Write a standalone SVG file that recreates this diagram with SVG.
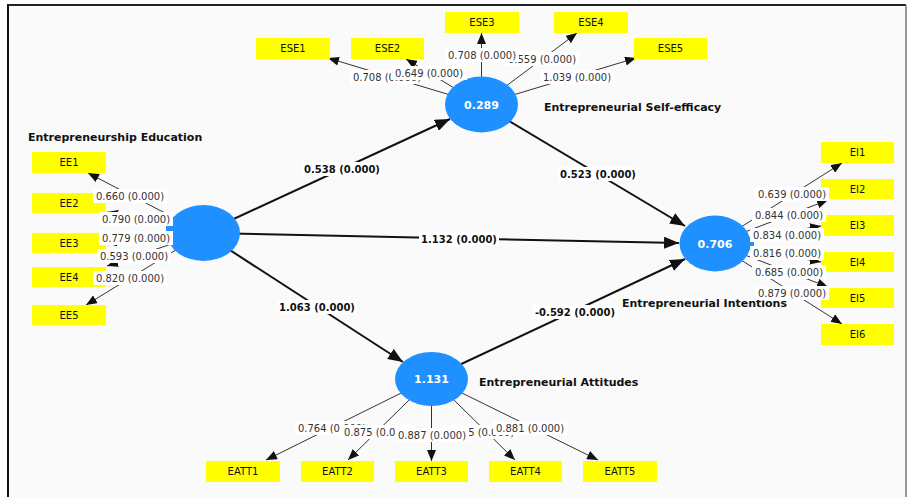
<svg xmlns="http://www.w3.org/2000/svg" width="907" height="497" viewBox="0 0 907 497">
<style>
.lv{fill:#1e90ff}
.ind{fill:#ffff00}
.ind-t{font-family:"DejaVu Sans",sans-serif;font-size:10px;fill:#111;text-anchor:middle}
.val{font-family:"DejaVu Sans",sans-serif;font-size:11px;font-weight:bold;fill:#fff;text-anchor:middle}
.name{font-family:"DejaVu Sans",sans-serif;font-size:11px;font-weight:bold;fill:#111}
.ld{stroke:#333;stroke-width:1;fill:none;marker-end:url(#ah)}
.st{stroke:#111;stroke-width:2;fill:none;marker-end:url(#ahb)}
.lb{fill:#fff}
.lt{font-family:"DejaVu Sans",sans-serif;font-size:10px;fill:#333;text-anchor:middle}
.sl{font-family:"DejaVu Sans",sans-serif;font-size:10px;font-weight:bold;fill:#111;text-anchor:middle}
</style>
<defs>
<marker id="ah" markerUnits="userSpaceOnUse" markerWidth="11" markerHeight="9" refX="11" refY="4.5" orient="auto"><path d="M0,0 L11,4.5 L0,9 z" fill="#111"/></marker>
<marker id="ahb" markerUnits="userSpaceOnUse" markerWidth="15" markerHeight="12" refX="15" refY="6" orient="auto"><path d="M0,0 L15,6 L0,12 z" fill="#111"/></marker>
</defs>
<rect width="907" height="497" fill="#fff"/>
<rect x="8" y="5" width="898" height="492" fill="#fafafa"/>
<line x1="7" y1="5" x2="906" y2="5" stroke="#222" stroke-width="2"/>
<line x1="8" y1="5" x2="8" y2="497" stroke="#111" stroke-width="2"/>
<line x1="906" y1="5" x2="906" y2="497" stroke="#777" stroke-width="1.5"/>

<g id="connectors">
<line class="ld" x1="481.5" y1="104.5" x2="328" y2="58"/>
<line class="ld" x1="481.5" y1="104.5" x2="406" y2="59"/>
<line class="ld" x1="481.5" y1="104.5" x2="481.5" y2="33"/>
<line class="ld" x1="481.5" y1="104.5" x2="577" y2="33"/>
<line class="ld" x1="481.5" y1="104.5" x2="636" y2="58"/>
<line class="ld" x1="203.5" y1="233" x2="88" y2="173"/>
<line class="ld" x1="203.5" y1="233" x2="107" y2="212"/>
<line class="ld" x1="203.5" y1="233" x2="106" y2="243"/>
<line class="ld" x1="203.5" y1="233" x2="107" y2="266"/>
<line class="ld" x1="203.5" y1="233" x2="86" y2="305"/>
<line class="ld" x1="715" y1="243.5" x2="842" y2="163"/>
<line class="ld" x1="715" y1="243.5" x2="828" y2="200"/>
<line class="ld" x1="715" y1="243.5" x2="821" y2="226"/>
<line class="ld" x1="715" y1="243.5" x2="821" y2="262"/>
<line class="ld" x1="715" y1="243.5" x2="828" y2="287"/>
<line class="ld" x1="715" y1="243.5" x2="842" y2="324"/>
<line class="ld" x1="431.5" y1="378" x2="266" y2="460"/>
<line class="ld" x1="431.5" y1="378" x2="348" y2="460"/>
<line class="ld" x1="431.5" y1="378" x2="431.5" y2="461"/>
<line class="ld" x1="431.5" y1="378" x2="515" y2="460"/>
<line class="ld" x1="431.5" y1="378" x2="598" y2="460"/>
<line class="st" x1="203.5" y1="233" x2="450" y2="119"/>
<line class="st" x1="203.5" y1="233" x2="679" y2="243"/>
<line class="st" x1="203.5" y1="233" x2="403" y2="362"/>
<line class="st" x1="481.5" y1="104.5" x2="685" y2="226"/>
<line class="st" x1="431.5" y1="378" x2="685" y2="259"/>
</g>

<g id="node-EE">
<ellipse class="lv" cx="203.5" cy="233" rx="36.5" ry="28"/>
<rect class="lv" x="166" y="225" width="9" height="7"/>
<text class="name" x="28" y="141">Entrepreneurship Education</text>
</g>
<g id="node-ESE">
<ellipse class="lv" cx="481.5" cy="104.5" rx="36.5" ry="28"/>
<text class="val" x="481.5" y="108.5">0.289</text>
<text class="name" x="544" y="111">Entrepreneurial Self-efficacy</text>
</g>
<g id="node-EI">
<ellipse class="lv" cx="715" cy="243.5" rx="35.5" ry="28"/>
<rect class="lv" x="748" y="240" width="6" height="6"/>
<text class="val" x="715" y="247.5">0.706</text>
<text class="name" x="787" y="307" text-anchor="end">Entrepreneurial Intentions</text>
</g>
<g id="node-EATT">
<ellipse class="lv" cx="431.5" cy="379" rx="36.5" ry="27"/>
<text class="val" x="431.5" y="383">1.131</text>
<text class="name" x="479" y="386">Entrepreneurial Attitudes</text>
</g>

<g id="node-ESE1"><rect class="ind" x="256" y="38" width="74" height="21"/><text class="ind-t" x="293" y="52">ESE1</text></g>
<g id="node-ESE2"><rect class="ind" x="351" y="38" width="73" height="21"/><text class="ind-t" x="387.5" y="52">ESE2</text></g>
<g id="node-ESE3"><rect class="ind" x="445" y="12" width="74" height="21"/><text class="ind-t" x="482" y="26">ESE3</text></g>
<g id="node-ESE4"><rect class="ind" x="554" y="12" width="74" height="21"/><text class="ind-t" x="591" y="26">ESE4</text></g>
<g id="node-ESE5"><rect class="ind" x="634" y="38" width="73" height="21"/><text class="ind-t" x="670.5" y="52">ESE5</text></g>

<g id="node-EE1"><rect class="ind" x="32" y="152" width="74" height="21"/><text class="ind-t" x="69" y="166">EE1</text></g>
<g id="node-EE2"><rect class="ind" x="32" y="193" width="74" height="20"/><text class="ind-t" x="69" y="207">EE2</text></g>
<g id="node-EE3"><rect class="ind" x="32" y="233" width="74" height="20"/><text class="ind-t" x="69" y="247">EE3</text></g>
<g id="node-EE4"><rect class="ind" x="32" y="267" width="74" height="20"/><text class="ind-t" x="69" y="281">EE4</text></g>
<g id="node-EE5"><rect class="ind" x="32" y="305" width="74" height="20"/><text class="ind-t" x="69" y="319">EE5</text></g>

<g id="node-EI1"><rect class="ind" x="821" y="142" width="73" height="21"/><text class="ind-t" x="857.5" y="156">EI1</text></g>
<g id="node-EI2"><rect class="ind" x="821" y="179" width="73" height="20"/><text class="ind-t" x="857.5" y="193">EI2</text></g>
<g id="node-EI3"><rect class="ind" x="821" y="215" width="73" height="21"/><text class="ind-t" x="857.5" y="229">EI3</text></g>
<g id="node-EI4"><rect class="ind" x="821" y="252" width="73" height="20"/><text class="ind-t" x="857.5" y="266">EI4</text></g>
<g id="node-EI5"><rect class="ind" x="821" y="288" width="73" height="20"/><text class="ind-t" x="857.5" y="302">EI5</text></g>
<g id="node-EI6"><rect class="ind" x="821" y="324" width="73" height="21"/><text class="ind-t" x="857.5" y="338">EI6</text></g>

<g id="node-EATT1"><rect class="ind" x="206" y="461" width="74" height="21"/><text class="ind-t" x="243" y="475">EATT1</text></g>
<g id="node-EATT2"><rect class="ind" x="301" y="461" width="73" height="21"/><text class="ind-t" x="337.5" y="475">EATT2</text></g>
<g id="node-EATT3"><rect class="ind" x="395" y="461" width="73" height="21"/><text class="ind-t" x="431.5" y="475">EATT3</text></g>
<g id="node-EATT4"><rect class="ind" x="489" y="461" width="73" height="21"/><text class="ind-t" x="525.5" y="475">EATT4</text></g>
<g id="node-EATT5"><rect class="ind" x="583" y="461" width="74" height="21"/><text class="ind-t" x="620" y="475">EATT5</text></g>

<g id="connector-labels">
<rect class="lb" x="350" y="70" width="74" height="14"/><text class="lt" x="387" y="81">0.708 (0.000)</text>
<rect class="lb" x="391" y="66" width="76" height="14"/><text class="lt" x="429" y="77">0.649 (0.000)</text>
<rect class="lb" x="505" y="52" width="74" height="14"/><text class="lt" x="542" y="63">0.559 (0.000)</text>
<rect class="lb" x="445" y="48" width="74" height="14"/><text class="lt" x="482" y="59">0.708 (0.000)</text>
<rect class="lb" x="540" y="70" width="74" height="14"/><text class="lt" x="577" y="81">1.039 (0.000)</text>

<rect class="lb" x="93" y="189" width="74" height="14"/><text class="lt" x="130" y="200">0.660 (0.000)</text>
<rect class="lb" x="99" y="212" width="74" height="14"/><text class="lt" x="136" y="223">0.790 (0.000)</text>
<rect class="lb" x="99" y="231" width="74" height="14"/><text class="lt" x="136" y="242">0.779 (0.000)</text>
<rect class="lb" x="97" y="249" width="74" height="14"/><text class="lt" x="134" y="260">0.593 (0.000)</text>
<rect class="lb" x="93" y="271" width="74" height="14"/><text class="lt" x="130" y="282">0.820 (0.000)</text>

<rect class="lb" x="755" y="187" width="74" height="14"/><text class="lt" x="792" y="198">0.639 (0.000)</text>
<rect class="lb" x="752" y="208" width="74" height="14"/><text class="lt" x="789" y="219">0.844 (0.000)</text>
<rect class="lb" x="750" y="228" width="74" height="14"/><text class="lt" x="787" y="239">0.834 (0.000)</text>
<rect class="lb" x="750" y="246" width="74" height="14"/><text class="lt" x="787" y="257">0.816 (0.000)</text>
<rect class="lb" x="752" y="265" width="74" height="14"/><text class="lt" x="789" y="276">0.685 (0.000)</text>
<rect class="lb" x="755" y="286" width="74" height="14"/><text class="lt" x="792" y="297">0.879 (0.000)</text>

<rect class="lb" x="295" y="421" width="74" height="14"/><text class="lt" x="332" y="432">0.764 (0.000)</text>
<rect class="lb" x="341" y="425" width="74" height="14"/><text class="lt" x="378" y="436">0.875 (0.000)</text>
<rect class="lb" x="443" y="425" width="74" height="14"/><text class="lt" x="480" y="436">0.865 (0.000)</text>
<rect class="lb" x="395" y="428" width="74" height="14"/><text class="lt" x="432" y="439">0.887 (0.000)</text>
<rect class="lb" x="493" y="421" width="74" height="14"/><text class="lt" x="530" y="432">0.881 (0.000)</text>

<rect class="lb" x="302" y="162" width="80" height="14"/><text class="sl" x="342" y="173">0.538 (0.000)</text>
<rect class="lb" x="558" y="167" width="80" height="14"/><text class="sl" x="598" y="178">0.523 (0.000)</text>
<rect class="lb" x="419" y="232" width="80" height="14"/><text class="sl" x="459" y="243">1.132 (0.000)</text>
<rect class="lb" x="277" y="300" width="80" height="14"/><text class="sl" x="317" y="311">1.063 (0.000)</text>
<rect class="lb" x="532" y="305" width="86" height="14"/><text class="sl" x="575" y="316">-0.592 (0.000)</text>
</g>
</svg>
